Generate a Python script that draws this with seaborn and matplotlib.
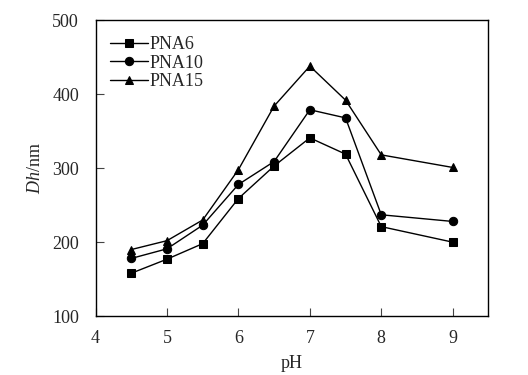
import pandas as pd
import numpy as np
import matplotlib.pyplot as plt
import seaborn as sns

# Data
ph = [4.5, 5, 5.5, 6, 6.5, 7, 7.5, 8, 9]
pna6 = [158, 177, 198, 259, 303, 341, 319, 221, 200]
pna10 = [178, 191, 223, 278, 309, 379, 368, 237, 228]
pna15 = [190, 202, 230, 298, 384, 438, 392, 318, 301]
series_names = ['PNA6', 'PNA10', 'PNA15']

df = pd.DataFrame({
    'pH': ph * 3,
    'Dh': pna6 + pna10 + pna15,
    'sample': [n for n in series_names for _ in ph],
})

sns.set_style('ticks')
plt.rcParams['font.family'] = 'serif'
plt.rcParams['font.serif'] = ['Liberation Serif', 'Times New Roman', 'DejaVu Serif']
plt.rcParams['mathtext.fontset'] = 'custom'
plt.rcParams['mathtext.it'] = 'Liberation Serif:italic'
plt.rcParams['mathtext.rm'] = 'Liberation Serif'

fig = plt.figure(figsize=(5.28, 3.75), dpi=100)
ax = fig.add_axes([0.181, 0.157, 0.744, 0.789])

sns.lineplot(data=df, x='pH', y='Dh', hue='sample', style='sample',
             palette=['black'] * 3, markers=['s', 'o', '^'], dashes=False,
             markersize=6, linewidth=1.0, markeredgecolor='black', ax=ax)

ax.set_xlim(4, 9.5)
ax.set_ylim(100, 500)
ax.set_xticks([4, 5, 6, 7, 8, 9])
ax.set_yticks([100, 200, 300, 400, 500])
ax.tick_params(direction='in', length=6, width=0.8, labelsize=13, pad=12,
               color='#444444')
ax.tick_params(axis='x', pad=10)
for s in ax.spines.values():
    s.set_linewidth(1.0)
    s.set_color('black')

ax.set_xlabel('pH', fontsize=13, labelpad=6)
ax.set_ylabel(r'$\mathit{Dh}$/nm', fontsize=13, labelpad=6)

leg = ax.legend(loc='upper left', frameon=False, fontsize=13,
                handlelength=2.1, handletextpad=0.1, labelspacing=0.1,
                borderaxespad=0.3, bbox_to_anchor=(0.005, 0.99))

fig.savefig('out.png', dpi=100)
